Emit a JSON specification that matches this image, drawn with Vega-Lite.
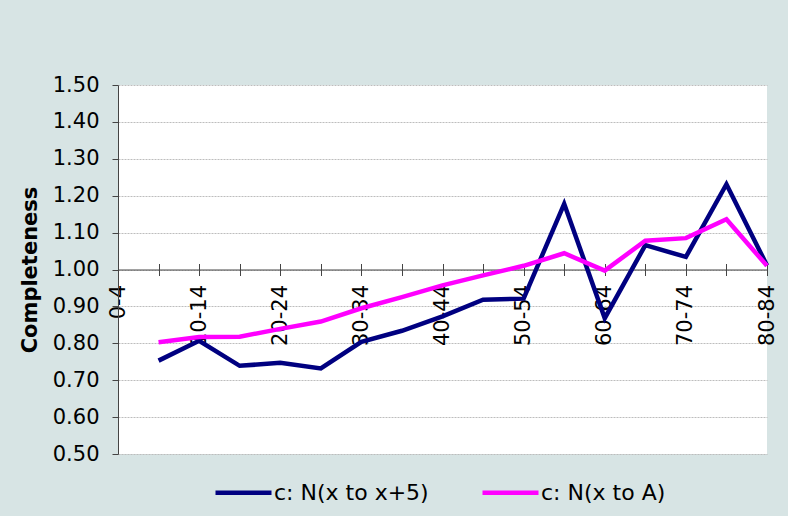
{
  "$schema": "https://vega.github.io/schema/vega-lite/v6.json",
  "width": 649,
  "height": 369,
  "autosize": {"type": "none"},
  "padding": {"left": 118, "top": 85, "right": 21, "bottom": 62},
  "background": "#d7e4e4",
  "config": {
    "view": {"fill": "white", "stroke": null},
    "font": "DejaVu Sans",
    "axis": {"labelColor": "black", "titleColor": "black", "domainColor": "#444444", "tickColor": "#444444"}
  },
  "data": {
    "values": [
      {"age": "5-9", "series": "c: N(x to x+5)", "value": 0.753},
      {"age": "10-14", "series": "c: N(x to x+5)", "value": 0.807},
      {"age": "15-19", "series": "c: N(x to x+5)", "value": 0.739},
      {"age": "20-24", "series": "c: N(x to x+5)", "value": 0.747},
      {"age": "25-29", "series": "c: N(x to x+5)", "value": 0.732},
      {"age": "30-34", "series": "c: N(x to x+5)", "value": 0.804},
      {"age": "35-39", "series": "c: N(x to x+5)", "value": 0.834},
      {"age": "40-44", "series": "c: N(x to x+5)", "value": 0.873},
      {"age": "45-49", "series": "c: N(x to x+5)", "value": 0.918},
      {"age": "50-54", "series": "c: N(x to x+5)", "value": 0.921},
      {"age": "55-59", "series": "c: N(x to x+5)", "value": 1.178},
      {"age": "60-64", "series": "c: N(x to x+5)", "value": 0.868},
      {"age": "65-69", "series": "c: N(x to x+5)", "value": 1.066},
      {"age": "70-74", "series": "c: N(x to x+5)", "value": 1.034},
      {"age": "75-79", "series": "c: N(x to x+5)", "value": 1.231},
      {"age": "80-84", "series": "c: N(x to x+5)", "value": 1.011},
      {"age": "5-9", "series": "c: N(x to A)", "value": 0.803},
      {"age": "10-14", "series": "c: N(x to A)", "value": 0.817},
      {"age": "15-19", "series": "c: N(x to A)", "value": 0.818},
      {"age": "20-24", "series": "c: N(x to A)", "value": 0.839},
      {"age": "25-29", "series": "c: N(x to A)", "value": 0.859},
      {"age": "30-34", "series": "c: N(x to A)", "value": 0.895},
      {"age": "35-39", "series": "c: N(x to A)", "value": 0.925},
      {"age": "40-44", "series": "c: N(x to A)", "value": 0.957},
      {"age": "45-49", "series": "c: N(x to A)", "value": 0.984},
      {"age": "50-54", "series": "c: N(x to A)", "value": 1.010},
      {"age": "55-59", "series": "c: N(x to A)", "value": 1.044},
      {"age": "60-64", "series": "c: N(x to A)", "value": 0.997},
      {"age": "65-69", "series": "c: N(x to A)", "value": 1.078},
      {"age": "70-74", "series": "c: N(x to A)", "value": 1.085},
      {"age": "75-79", "series": "c: N(x to A)", "value": 1.136},
      {"age": "80-84", "series": "c: N(x to A)", "value": 1.010}
    ]
  },
  "encoding": {
    "y": {
      "field": "value",
      "type": "quantitative",
      "scale": {"domain": [0.5, 1.5], "zero": false, "nice": false},
      "axis": {
        "values": [0.5, 0.6, 0.7, 0.8, 0.9, 1.0, 1.1, 1.2, 1.3, 1.4, 1.5],
        "format": ".2f",
        "labelFontSize": 21,
        "labelPadding": 13,
        "tickSize": 6,
        "title": "Completeness",
        "titleFontSize": 21,
        "titleFontWeight": "bold",
        "titlePadding": 12,
        "grid": true,
        "gridColor": "#bdbdbd",
        "gridDash": [2, 1]
      }
    },
    "color": {
      "field": "series",
      "type": "nominal",
      "scale": {"domain": ["c: N(x to x+5)", "c: N(x to A)"], "range": ["#000080", "#ff00ff"]},
      "legend": {
        "orient": "none",
        "legendX": 95,
        "legendY": 377,
        "direction": "horizontal",
        "title": null,
        "symbolType": "stroke",
        "symbolSize": 3136,
        "symbolStrokeWidth": 4.5,
        "labelFontSize": 22,
        "labelColor": "black",
        "labelOffset": 0,
        "columnPadding": 44,
        "padding": 0
      }
    }
  },
  "layer": [
    {
      "transform": [{"filter": "datum.series === 'c: N(x to x+5)'"}],
      "mark": {"type": "line", "strokeWidth": 4.5},
      "encoding": {
        "x": {
          "field": "age",
          "type": "ordinal",
          "scale": {"type": "point", "padding": 0, "domain": ["0-4", "5-9", "10-14", "15-19", "20-24", "25-29", "30-34", "35-39", "40-44", "45-49", "50-54", "55-59", "60-64", "65-69", "70-74", "75-79", "80-84"]},
          "axis": {
            "orient": "bottom",
            "offset": -184.5,
            "title": null,
            "labelAngle": -90,
            "labelAlign": "right",
            "labelBaseline": "middle",
            "labelFontSize": 21,
            "labelPadding": 9,
            "labelExpr": "round(datum.index * 16) % 2 === 0 ? datum.label : ''",
            "tickSize": 6,
            "grid": false
          }
        }
      }
    },
    {
      "transform": [{"filter": "datum.series === 'c: N(x to A)'"}],
      "mark": {"type": "line", "strokeWidth": 4.5},
      "encoding": {
        "x": {
          "field": "age",
          "type": "ordinal",
          "scale": {"type": "point", "padding": 0, "domain": ["0-4", "5-9", "10-14", "15-19", "20-24", "25-29", "30-34", "35-39", "40-44", "45-49", "50-54", "55-59", "60-64", "65-69", "70-74", "75-79", "80-84"]},
          "axis": {
            "orient": "top",
            "offset": -184.5,
            "title": null,
            "labels": false,
            "domain": false,
            "tickSize": 6,
            "grid": false
          }
        }
      }
    }
  ],
  "resolve": {"axis": {"x": "independent"}}
}
